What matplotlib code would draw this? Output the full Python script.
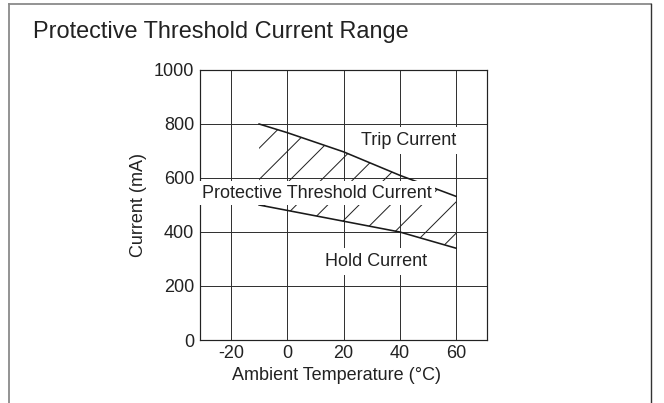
import matplotlib
matplotlib.use("Agg")
import matplotlib.pyplot as plt
from matplotlib.lines import Line2D

# data
temps = [-10, 0, 20, 40, 60]
trip_current = [800, 768, 697, 610, 532]
hold_current = [500, 480, 440, 400, 340]
x_ticks = [-20, 0, 20, 40, 60]
y_ticks = [0, 200, 400, 600, 800, 1000]

# dpi picked so the hatch spacing matches the reference (~22 px)
DPI = 188
W, H = 664, 403


def pt(px):
    # pixel size -> points at this dpi
    return px * 72 / DPI


plt.rcParams['font.family'] = ['Liberation Sans', 'DejaVu Sans']
plt.rcParams['hatch.linewidth'] = pt(1.0)

fig = plt.figure(figsize=(W / DPI, H / DPI), dpi=DPI)
fig.patch.set_facecolor('white')

# outer frame (bottom edge runs off the picture)
fl, fr, ft = 8.5 / W, 651 / W, 1 - 4.5 / H
fig.add_artist(Line2D([fl, fl], [-0.1, ft], transform=fig.transFigure, color='#8a8a8a', lw=pt(1.8)))
fig.add_artist(Line2D([fl, fr], [ft, ft], transform=fig.transFigure, color='#8a8a8a', lw=pt(1.8)))
fig.add_artist(Line2D([fr, fr], [-0.1, ft], transform=fig.transFigure, color='#333333', lw=pt(1.4)))

fig.text(33 / W, 1 - 38 / H, "Protective Threshold Current Range", fontsize=pt(23.5),
         color='#222222', ha='left', va='baseline')

left, right, top, bottom = 200, 487, 70, 340
ax = fig.add_axes([left / W, 1 - bottom / H, (right - left) / W, (bottom - top) / H])

txt = '#222222'
fs = pt(18)

# hatched protective region between the two curves
ax.fill_between(temps, hold_current, trip_current, facecolor='none', edgecolor='#222222',
                linewidth=0, hatch='//', zorder=2)
ax.plot(temps, trip_current, color='#1a1a1a', lw=pt(1.6), zorder=3)
ax.plot(temps, hold_current, color='#1a1a1a', lw=pt(1.6), zorder=3)

ax.set_xlim(-31, 71)
ax.set_ylim(0, 1000)
ax.set_xticks(x_ticks)
ax.set_yticks(y_ticks)
ax.set_xticklabels([str(v) for v in x_ticks])
ax.set_yticklabels([str(v) for v in y_ticks])
ax.tick_params(length=0, labelsize=fs, labelcolor=txt)
ax.tick_params(axis='y', pad=pt(6))
ax.tick_params(axis='x', pad=pt(5))
ax.grid(True, color='#333333', lw=pt(1.0))
ax.set_axisbelow(True)
for s in ax.spines.values():
    s.set_color('#222222')
    s.set_linewidth(pt(1.2))

ax.set_xlabel("Ambient Temperature (\u00b0C)", fontsize=fs, color=txt, va='center')
ax.xaxis.set_label_coords(0.476, -0.133)
ax.set_ylabel("Current (mA)", fontsize=fs, color=txt, va='center')
ax.yaxis.set_label_coords(-0.213, 0.5)

box = dict(boxstyle='square,pad=0.28', facecolor='white', edgecolor='none')
ax.text(43, 740, "Trip Current", fontsize=fs, color=txt, ha='center', va='center',
        bbox=box, zorder=4)
ax.text(10.5, 543, "Protective Threshold Current", fontsize=fs, color=txt, ha='center',
        va='center', bbox=dict(boxstyle='square,pad=0.2', facecolor='white', edgecolor='none'),
        zorder=4)
ax.text(31.6, 290, "Hold Current", fontsize=fs, color=txt, ha='center', va='center',
        bbox=box, zorder=4)

fig.savefig("out.png", dpi=DPI)
